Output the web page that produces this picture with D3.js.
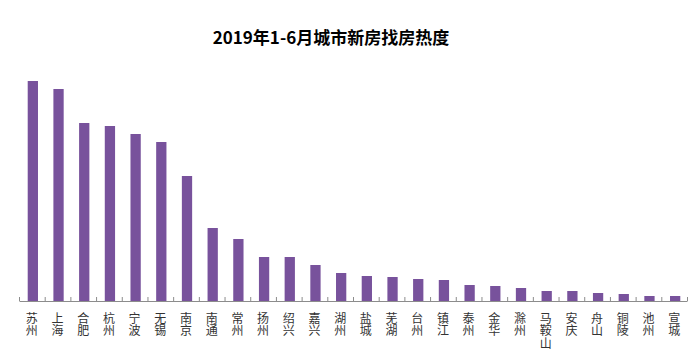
<!DOCTYPE html>
<html>
<head>
<meta charset="utf-8">
<script src="https://cdn.jsdelivr.net/npm/d3@7"></script>
<style>
  body { margin: 0; background: #fff; }
  svg { display: block; }
</style>
</head>
<body>
<svg id="chart" width="698" height="360"></svg>
<script>
  var cities = ['苏州', '上海', '合肥', '杭州', '宁波', '无锡', '南京', '南通', '常州', '扬州', '绍兴', '嘉兴', '湖州',
    '盐城', '芜湖', '台州', '镇江', '泰州', '金华', '滁州', '马鞍山', '安庆', '舟山', '铜陵', '池州', '宣城'];
  var heat = [220, 212, 178, 175, 167, 159, 125, 73, 62, 44, 44, 36, 28,
    25, 24, 22, 21, 16, 15, 13, 10, 10, 8, 7, 5, 5];
  var title = '2019年1-6月城市新房找房热度';

  (function () {
    var svg = d3.select('#chart'),
      left = 19,
      right = 687,
      base = 301,
      peak = 81;

    var x = d3.scaleBand()
      .domain(cities)
      .range([left, right])
      .paddingInner(0.6)
      .paddingOuter(0.3);

    var y = d3.scaleLinear()
      .domain([0, d3.max(heat)])
      .range([base, peak]);

    // tick marks sit on the category boundaries
    var edge = d3.scaleLinear()
      .domain([0, cities.length])
      .range([left, right]);

    svg.append('text')
      .attr('x', 331)
      .attr('y', 44)
      .attr('text-anchor', 'middle')
      .attr('font-family', '"Noto Sans CJK SC", sans-serif')
      .attr('font-weight', 'bold')
      .attr('font-size', 17)
      .attr('fill', '#000')
      .text(title);

    svg.selectAll('rect.bar')
      .data(heat)
      .enter().append('rect')
      .attr('class', 'bar')
      .attr('x', function (d, i) { return x(cities[i]) + 1; })
      .attr('width', x.bandwidth())
      .attr('y', function (d) { return y(d); })
      .attr('height', function (d) { return base - y(d); })
      .attr('fill', '#78529c');

    var axis = svg.append('g')
      .attr('transform', 'translate(0,' + base + ')')
      .call(d3.axisBottom(edge)
        .tickValues(d3.range(cities.length + 1))
        .tickSize(-4)
        .tickSizeOuter(0)
        .tickFormat(''));
    axis.selectAll('path, line').attr('stroke', '#8c8c8c');

    // one text per character, stacked vertically
    var chars = [];
    cities.forEach(function (c) {
      c.split('').forEach(function (ch, i) {
        chars.push({ city: c, ch: ch, row: i });
      });
    });

    svg.selectAll('text.city')
      .data(chars)
      .enter().append('text')
      .attr('class', 'city')
      .attr('text-anchor', 'middle')
      .attr('font-family', '"Noto Sans CJK SC", sans-serif')
      .attr('font-size', 12)
      .attr('fill', '#333')
      .attr('x', function (d) { return x(d.city) + x.bandwidth() / 2; })
      .attr('y', function (d) { return 323 + d.row * 12.3; })
      .text(function (d) { return d.ch; });
  })();
</script>
</body>
</html>
